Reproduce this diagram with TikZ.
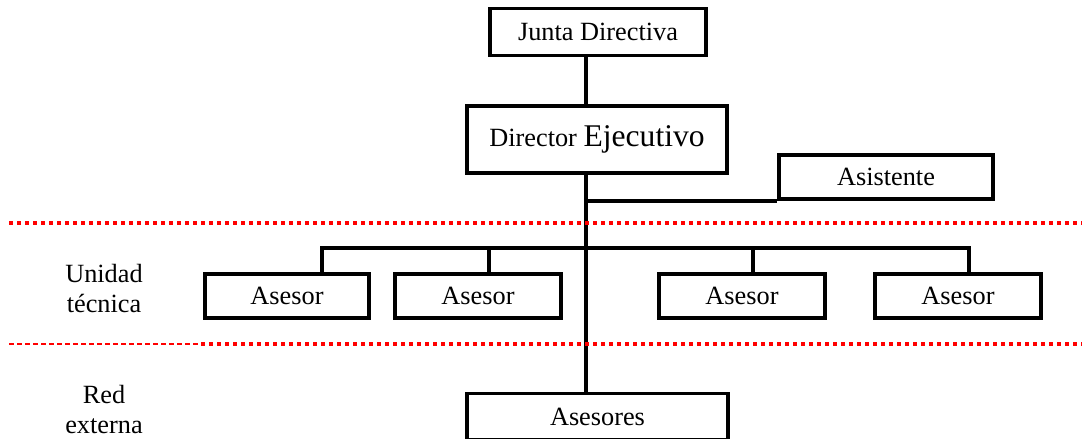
\documentclass[tikz,border=0pt]{standalone}
\usepackage{fontspec}
\setmainfont{Liberation Serif}
\newcommand{\basefont}{\fontsize{26.3}{30}\selectfont}
\newcommand{\bigfont}{\fontsize{31.6}{36}\selectfont}
\tikzset{
  orgbox/.style={draw=black, line width=3.7pt, fill=white, inner sep=0pt,
                 minimum height=44pt, font=\basefont},
  advbox/.style={orgbox, minimum width=166pt},
  sidelabel/.style={align=center, inner sep=0pt, font=\basefont},
  link/.style={line width=3.5pt},
  sepdots/.style={red, line width=4pt, dash pattern=on 4pt off 4pt},
  septhin/.style={red, line width=1.4pt, dash pattern=on 4.5pt off 3.5pt},
}
\begin{document}
\begin{tikzpicture}[x=1pt, y=-1pt]
\useasboundingbox (0,0) rectangle (1082,439);

% boxes of the hierarchy
\node[orgbox, minimum width=216pt, minimum height=47pt] (junta) at (598,32) {Junta Directiva};
\node[orgbox, minimum width=260pt, minimum height=67pt] (dir) at (597,139.5)
  {Director {\bigfont Ejecutivo}};
\node[orgbox, minimum width=214pt] (asis) at (886,177) {Asistente};
\node[advbox, minimum width=164pt] (a1) at (287,296) {Asesor};
\node[advbox] (a2) at (478,296) {Asesor};
\node[advbox] (a3) at (742,296) {Asesor};
\node[advbox] (a4) at (958,296) {Asesor};
\node[orgbox, minimum width=261pt, minimum height=46pt] (red) at (597.5,416.5) {Asesores};

% side labels of the levels
\node[sidelabel] (unidad) at (104,289) {Unidad\\técnica};
\node[sidelabel] (externa) at (104,409) {Red\\externa};

% main spine and branch points
\coordinate (spine) at (586,0);
\coordinate (busL) at (322,248);
\coordinate (busR) at (969,248);
\coordinate (d2) at (489,248);
\coordinate (d3) at (753,248);

\draw[link] (junta.south -| spine) -- (dir.north -| spine);
\draw[link] (dir.south -| spine) -- (red.north -| spine);
\draw[link] (asis.south west -| spine) -- (asis.south west);
\draw[link] (a1.north -| busL) -- (busL) -- (busR) -- (a4.north -| busR);
\draw[link] (d2) -- (a2.north -| d2);
\draw[link] (d3) -- (a3.north -| d3);

% level separators
\coordinate (s1a) at (9,223);
\coordinate (s1b) at (1082,223);
\coordinate (s2a) at (9,344);
\coordinate (s2m) at (201,344);
\coordinate (s2b) at (1082,344);
\draw[sepdots] (s1a) -- (s1b);
\draw[septhin] (s2a) -- (s2m);
\draw[sepdots] (s2m) -- (s2b);
\end{tikzpicture}
\end{document}
